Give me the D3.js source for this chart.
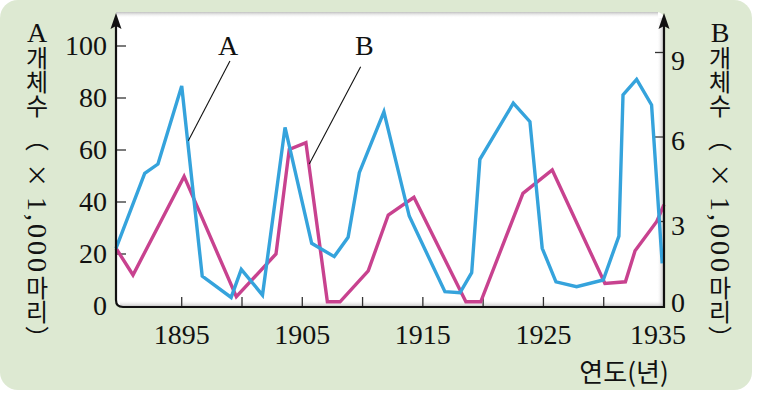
<!DOCTYPE html>
<html><head><meta charset="utf-8">
<script src="https://cdn.jsdelivr.net/npm/d3@7"></script>
<style>body{margin:0;background:#fff}svg{display:block}</style>
</head><body>
<script>
// ---- data ----
const yearsA  = [1889.55,1891.93,1893.03,1895.0,1896.7,1899.1,1899.94,1901.7,1903.57,1905.78,1907.65,1908.8,1909.73,1911.77,1913.87,1916.83,1918.08,1919.05,1919.73,1922.5,1923.88,1924.9,1926.04,1927.75,1929.96,1931.26,1931.6,1932.73,1933.97,1934.85];
const valuesA = [22.2,51.0,54.6,84.6,11.5,3.3,14.1,4.2,68.7,24.1,19.0,26.4,51.3,74.7,34.6,5.5,5.1,12.8,56.4,78.0,70.9,22.2,9.3,7.4,10.0,26.9,81.2,87.2,77.3,16.4];
const yearsB  = [1889.55,1890.96,1895.2,1899.53,1902.82,1903.92,1905.3,1907.08,1908.13,1910.47,1912.13,1914.26,1918.57,1919.8,1923.3,1925.73,1930.1,1931.8,1932.6,1934.4,1935.0];
const valuesB = [2.05,1.1,4.6,0.33,1.85,5.56,5.8,0.15,0.15,1.25,3.23,3.86,0.15,0.15,4.0,4.83,0.8,0.86,1.96,3.0,3.6];
const xTicks = [1895,1900,1905,1910,1915,1920,1925,1930,1935];
const xLabels = [1895,1905,1915,1925,1935];
const yTicksA = [0,20,40,60,80,100];
const yTicksB = [0,3,6,9];
// vertical title pieces: [text, start y, font]
const titleParts = [["개체수",46,"cjk"],["（",127,"cjk"],["×",163,"cjk"],["1,000",197,"serif"],["마리",276,"cjk"],["）",326,"cjk"]];
const xTitle = "연도(년)";
// annotation anchors in data coords (year, A-scale value)
const annA = {label:"A", at:[1898.85,100.4], from:[1899.0,94.2], to:[1895.55,63.6]};
const annB = {label:"B", at:[1910.14,100.4], from:[1909.84,92.0], to:[1905.58,54.6]};

const W=766,H=397;
const svg=d3.select("body").append("svg").attr("width",W).attr("height",H);
const defs=svg.append("defs");
const gR=defs.append("linearGradient").attr("id","shR").attr("x1",0).attr("x2",1);
gR.append("stop").attr("offset",0).attr("stop-color","#fff").attr("stop-opacity",0);
gR.append("stop").attr("offset",1).attr("stop-color","#9a9a9a").attr("stop-opacity",0.7);
const gB=defs.append("linearGradient").attr("id","shB").attr("x1",0).attr("x2",0).attr("y1",0).attr("y2",1);
gB.append("stop").attr("offset",0).attr("stop-color","#fff").attr("stop-opacity",0);
gB.append("stop").attr("offset",1).attr("stop-color","#9a9a9a").attr("stop-opacity",0.7);
const gT=defs.append("linearGradient").attr("id","shT").attr("x1",0).attr("x2",0).attr("y1",0).attr("y2",1);
gT.append("stop").attr("offset",0).attr("stop-color","#b0b0b0").attr("stop-opacity",0.8);
gT.append("stop").attr("offset",1).attr("stop-color","#fff").attr("stop-opacity",0);

const L=116,R=664,B0=306,T=12;
const x=d3.scaleLinear().domain([1889.55,1935]).range([L,R]);
const yA=d3.scaleLinear().domain([0,100]).range([B0,46]);
const yB=d3.scaleLinear().domain([0,9]).range([B0,52.5]);

// panel
svg.append("rect").attr("x",0).attr("y",0).attr("width",752).attr("height",390).attr("rx",18).attr("fill","#dde9d2");
// plot area
svg.append("path").attr("d",`M${L},${T} H${R-8} Q${R},${T} ${R},${T+8} V${B0+1} H${L+6} Q${L},${B0+1} ${L},${B0-5} Z`).attr("fill","#fff");
svg.append("rect").attr("x",L).attr("y",T).attr("width",R-L-6).attr("height",6).attr("fill","url(#shT)");
svg.append("rect").attr("x",R-7).attr("y",T+6).attr("width",7).attr("height",B0-T-5).attr("fill","url(#shR)");
svg.append("rect").attr("x",L+4).attr("y",B0-6).attr("width",R-L-4).attr("height",7).attr("fill","url(#shB)");

// ticks
const tk=svg.append("g").attr("stroke","#333").attr("stroke-width",1.3);
tk.selectAll(".xt").data(xTicks).join("line").attr("x1",d=>x(d)).attr("x2",d=>x(d)).attr("y1",B0).attr("y2",B0-9);
tk.selectAll(".ya").data(yTicksA.filter(d=>d>0)).join("line").attr("x1",L).attr("x2",L+10).attr("y1",d=>yA(d)).attr("y2",d=>yA(d));
tk.selectAll(".yb").data(yTicksB.filter(d=>d>0)).join("line").attr("x1",R).attr("x2",R-9).attr("y1",d=>yB(d)).attr("y2",d=>yB(d));

// series
const lineA=d3.line().x((d,i)=>x(yearsA[i])).y(d=>yA(d));
const lineB=d3.line().x((d,i)=>x(yearsB[i])).y(d=>yB(d));
svg.append("path").attr("d",lineB(valuesB)).attr("fill","none").attr("stroke","#c8428f").attr("stroke-width",3.4).attr("stroke-linejoin","miter");
svg.append("path").attr("d",lineA(valuesA)).attr("fill","none").attr("stroke","#35a3dc").attr("stroke-width",3.4).attr("stroke-linejoin","miter");

// axes lines
svg.append("path").attr("d",`M${L},22 V${B0-6} Q${L},${B0+1} ${L+7},${B0+1} H${R} V22`).attr("fill","none").attr("stroke","#111").attr("stroke-width",2.2);
[L,R].forEach(ax=>{
  svg.append("path").attr("d",`M${ax},13 L${ax-5.5},29 L${ax},26 L${ax+5.5},29 Z`).attr("fill","#111");
});

const serif="'Liberation Serif','Times New Roman',serif";
const cjk="'Noto Sans CJK KR','Noto Sans',sans-serif";
// tick labels
svg.append("g").selectAll("text").data(xLabels).join("text")
  .attr("x",d=>x(d)+(d===1935?-6:0)).attr("y",B0+38).attr("text-anchor","middle")
  .attr("font-family",serif).attr("font-size",28).attr("fill","#111").text(d=>d);
svg.append("g").selectAll("text").data(yTicksA).join("text")
  .attr("x",107).attr("y",d=>yA(d)+9).attr("text-anchor","end")
  .attr("font-family",serif).attr("font-size",28).attr("fill","#111").text(d=>d);
svg.append("g").selectAll("text").data(yTicksB).join("text")
  .attr("x",671).attr("y",d=>yB(d)+(d===9?17:d===0?6:13)).attr("text-anchor","start")
  .attr("font-family",serif).attr("font-size",28).attr("fill","#111").text(d=>d);

// vertical titles
function vtitle(cx,letter){
  const g=svg.append("g").attr("fill","#111");
  g.append("text").attr("x",cx).attr("y",42).attr("text-anchor","middle").attr("font-family",serif).attr("font-size",28).text(letter);
  titleParts.forEach(([s,y0,f])=>{
    const t=g.append("text").style("writing-mode","vertical-rl").style("text-orientation","mixed")
      .attr("x",cx).attr("y",y0).text(s);
    if(f==="serif") t.attr("font-family",serif).attr("font-size",28).attr("letter-spacing",3);
    else t.attr("font-family",cjk).attr("font-size",24);
  });
}
vtitle(37,"A");
vtitle(720,"B");

// x title
svg.append("text").attr("x",624).attr("y",382).attr("text-anchor","middle").attr("font-family",cjk).attr("font-size",26).attr("fill","#111").text(xTitle);

// annotations
[annA,annB].forEach(a=>{
  svg.append("line").attr("x1",x(a.from[0])).attr("y1",yA(a.from[1])).attr("x2",x(a.to[0])).attr("y2",yA(a.to[1])).attr("stroke","#111").attr("stroke-width",1.1);
  svg.append("text").attr("x",x(a.at[0])).attr("y",yA(a.at[1])).attr("dy","0.35em").attr("text-anchor","middle").attr("font-family",serif).attr("font-size",28).attr("fill","#111").text(a.label);
});
</script>
</body></html>
